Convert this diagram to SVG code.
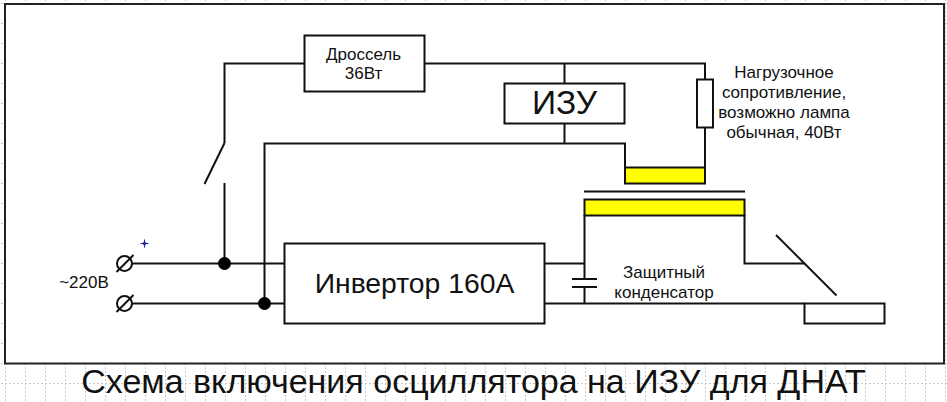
<svg xmlns="http://www.w3.org/2000/svg" width="947" height="402" viewBox="0 0 947 402">
<style>
text{font-family:"Liberation Sans",Arial,sans-serif;fill:#111;text-anchor:middle}
.w{fill:none;stroke:#111;stroke-width:2}
.b{fill:#fff;stroke:#111;stroke-width:2}
.y{fill:#ffff00;stroke:#111;stroke-width:2}
.g{stroke:#c8c8c8;stroke-width:1;stroke-dasharray:2 2;fill:none}
.s{font-size:17px}
</style>
<defs>
<pattern id="grid" width="20" height="20" patternUnits="userSpaceOnUse" x="5" y="3">
<path class="g" d="M0.5 0V20M0 0.5H20"/>
</pattern>
</defs>
<rect width="947" height="402" fill="#fff"/>
<rect width="947" height="402" fill="url(#grid)"/>
<rect id="frame" x="5" y="4" width="939" height="359.500" fill="#fff" stroke="#222" stroke-width="2"/>
<g id="connectors" class="w">
<path d="M224.500 143V63.500H304.500"/>
<path d="M424.500 63.500H705V79"/>
<path d="M705 127V167"/>
<path d="M564.500 63.500V83.500"/>
<path d="M564.500 123.500V143.500"/>
<path d="M264.500 303.500V143.500H625V167.500"/>
<path d="M224.500 143L204.500 184"/>
<path d="M224.500 183V263.500"/>
<path d="M132 263.500H284.500"/>
<path d="M132 303.500H284.500"/>
<path d="M545 263.500H584.500"/>
<path d="M545 303.500H804.500"/>
<path d="M584.500 215V279M584.500 287V303.500"/>
<path d="M744.500 215V263.500H805"/>
<path d="M776 235L836.500 295.500"/>
<path d="M584 191.500H745"/>
</g>
<g id="terminal-1" class="w"><circle cx="124.500" cy="263.500" r="7.500"/><path d="M116.500 272L133.500 255"/></g>
<g id="terminal-2" class="w"><circle cx="124.500" cy="303.500" r="7.500"/><path d="M116.500 312L133.500 295"/></g>
<circle id="dot-1" cx="224.500" cy="263.500" r="6.500" fill="#000"/>
<circle id="dot-2" cx="264.500" cy="303.500" r="6.500" fill="#000"/>
<g id="marker" stroke="#2222aa" stroke-width="1" fill="none"><path d="M140.500 243.500H148.500M144.500 239.500V247.500"/><circle cx="144.500" cy="243.500" r="1.500"/></g>
<g id="supply"><text class="s" x="84" y="288">~220В</text></g>
<g id="choke"><rect class="b" x="304.500" y="35.500" width="120" height="56"/><text class="s" x="363.500" y="59.500">Дроссель</text><text class="s" x="363.500" y="79">36Вт</text></g>
<g id="izu"><rect class="b" x="504.500" y="83.500" width="120" height="40"/><text x="564.500" y="114" font-size="33.500">ИЗУ</text></g>
<g id="load"><rect class="b" x="697" y="79.500" width="16" height="48"/><text class="s" x="784" y="78">Нагрузочное</text><text class="s" x="784" y="98">сопротивление,</text><text class="s" x="784" y="118">возможно лампа</text><text class="s" x="784" y="138">обычная, 40Вт</text></g>
<g id="coil-primary"><rect class="y" x="625" y="167.500" width="80" height="16"/></g>
<g id="coil-secondary"><rect class="y" x="584.500" y="199.500" width="160" height="16"/></g>
<g id="inverter"><rect class="b" x="284.500" y="243.500" width="260" height="80"/><text x="414.500" y="293" font-size="28.300">Инвертор 160А</text></g>
<g id="capacitor"><path class="w" d="M572 279H597M572 287H597"/><text class="s" x="664" y="278">Защитный</text><text class="s" x="664" y="298">конденсатор</text></g>
<g id="lamp"><rect class="b" x="804.500" y="303.500" width="80" height="20"/></g>
<text id="title" x="473.500" y="393" font-size="34">Схема включения осциллятора на ИЗУ для ДНАТ</text>
</svg>
